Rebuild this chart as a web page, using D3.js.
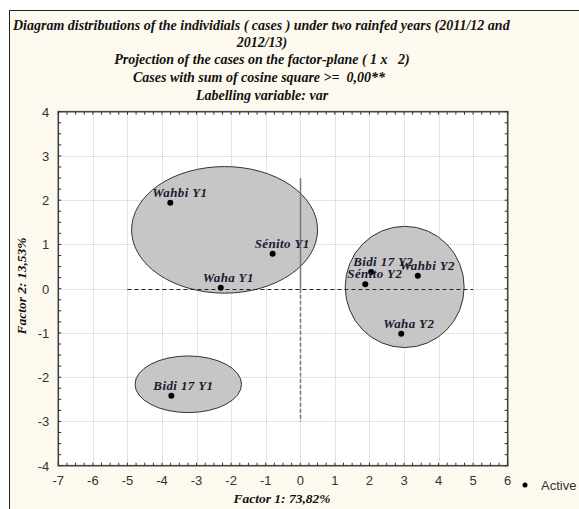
<!DOCTYPE html>
<html><head><meta charset="utf-8">
<script src="https://cdn.jsdelivr.net/npm/d3@7"></script>
<style>
html,body{margin:0;padding:0;background:#fff;}
svg{display:block;}
text{white-space:pre;}
</style></head>
<body>
<svg id="chart" width="579" height="509"></svg>
<script>
// ---- data ----
const caseNames = ["Wahbi Y1","Sénito Y1","Waha Y1","Bidi 17 Y1","Bidi 17 Y2","Sénito Y2","Wahbi Y2","Waha Y2"];
const factor1 = [-3.76,-0.80,-2.30,-3.73,2.05,1.88,3.40,2.92];
const factor2 = [1.94,0.79,0.02,-2.42,0.38,0.10,0.29,-1.02];
const groupCx = [-2.19,3.02,-3.24];
const groupCy = [1.33,0.04,-2.16];
const groupRx = [2.69,1.72,1.54];
const groupRy = [1.43,1.37,0.64];
const xTicks = [-7,-6,-5,-4,-3,-2,-1,0,1,2,3,4,5,6];
const yTicks = [-4,-3,-2,-1,0,1,2,3,4];
const titleLines = ["Diagram distributions of the individials ( cases ) under two rainfed years (2011/12 and","2012/13)","Projection of the cases on the factor-plane ( 1 x   2)","Cases with sum of cosine square >=  0,00**","Labelling variable: var"];
const xTitle = "Factor 1: 73,82%";
const yTitle = "Factor 2: 13,53%";
const legendLabel = "Active";
const hLine = [-5,5];   // horizontal reference at factor2 = 0
const vLine = [2.5,-3]; // vertical reference at factor1 = 0

// ---- layout ----
const svg = d3.select("#chart");
const L = 58.3, R = 507.7, T = 111.7, B = 465.7;
const x = d3.scaleLinear().domain([-7,6]).range([L,R]);
const y = d3.scaleLinear().domain([-4,4]).range([B,T]);

// frame
svg.append("rect").attr("x",9.5).attr("y",10.5).attr("width",600).attr("height",520)
  .attr("fill","#fef9ee").attr("stroke","#222").attr("stroke-width",1);

// title
const serif = "'Liberation Serif','Times New Roman',serif";
const sans = "'Liberation Sans',Arial,sans-serif";
const tl = svg.append("g").attr("font-family",serif).attr("font-weight","bold").attr("font-style","italic")
  .attr("font-size",14).attr("fill","#111");
tl.append("text").attr("x",13).attr("y",30).text(titleLines[0]);
tl.append("text").attr("x",262).attr("y",47).attr("text-anchor","middle").text(titleLines[1]);
tl.append("text").attr("x",262).attr("y",64).attr("text-anchor","middle").text(titleLines[2]);
tl.append("text").attr("x",259).attr("y",82).attr("text-anchor","middle").text(titleLines[3]);
tl.append("text").attr("x",262).attr("y",100).attr("text-anchor","middle").text(titleLines[4]);

// plot bg
svg.append("rect").attr("x",L).attr("y",T).attr("width",R-L).attr("height",B-T).attr("fill","#fff");

// grid
const grid = svg.append("g").attr("stroke","#c8c8c8").attr("stroke-width",1).attr("stroke-dasharray","1,1");
grid.selectAll(".gx").data(xTicks.slice(1,-1)).join("line")
  .attr("x1",d=>Math.round(x(d))+0.5).attr("x2",d=>Math.round(x(d))+0.5).attr("y1",T).attr("y2",B);
grid.selectAll(".gy").data(yTicks.slice(1,-1)).join("line")
  .attr("y1",d=>Math.round(y(d))+0.5).attr("y2",d=>Math.round(y(d))+0.5).attr("x1",L).attr("x2",R);

// ellipses
svg.append("g").selectAll("ellipse").data(groupCx).join("ellipse")
  .attr("cx",(d,i)=>x(d)).attr("cy",(d,i)=>y(groupCy[i]))
  .attr("rx",(d,i)=>x(groupRx[i])-x(0)).attr("ry",(d,i)=>y(0)-y(groupRy[i]))
  .attr("fill","#c6c6c6").attr("stroke","#333").attr("stroke-width",1);

// reference lines
svg.append("line").attr("x1",x(hLine[0])).attr("x2",x(hLine[1])).attr("y1",Math.round(y(0))+0.5).attr("y2",Math.round(y(0))+0.5)
  .attr("stroke","#222").attr("stroke-width",1).attr("stroke-dasharray","4,3");
svg.append("line").attr("x1",Math.round(x(0))+0.5).attr("x2",Math.round(x(0))+0.5).attr("y1",y(vLine[0])).attr("y2",y(0))
  .attr("stroke","#777").attr("stroke-width",1.5);
svg.append("line").attr("x1",Math.round(x(0))+0.5).attr("x2",Math.round(x(0))+0.5).attr("y1",y(0)).attr("y2",y(vLine[1]))
  .attr("stroke","#777").attr("stroke-width",1.5).attr("stroke-dasharray","4,2");

// points
svg.append("g").selectAll("circle").data(factor1).join("circle")
  .attr("cx",d=>x(d)).attr("cy",(d,i)=>y(factor2[i])).attr("r",3).attr("fill","#000");

// labels
svg.append("g").attr("font-family",serif).attr("font-weight","bold").attr("font-style","italic")
  .attr("font-size",13).attr("letter-spacing",0.4).attr("fill","#1a1a30")
  .selectAll("text").data(caseNames).join("text")
  .attr("x",(d,i)=>x(factor1[i])-18).attr("y",(d,i)=>y(factor2[i])-6).text(d=>d);

// axes frame
const ax = svg.append("g");
ax.append("rect").attr("x",L).attr("y",T).attr("width",R-L).attr("height",B-T)
  .attr("fill","none").attr("stroke","#444").attr("stroke-width",1.6);

// ticks (inside, every 0.25)
const xMinor = d3.range(-7,6.001,0.25);
const yMinor = d3.range(-4,4.001,0.25);
const tk = ax.append("g").attr("stroke","#333").attr("stroke-width",1);
tk.selectAll(".tb").data(xMinor).join("line").attr("x1",d=>x(d)).attr("x2",d=>x(d)).attr("y1",B).attr("y2",B-3);
tk.selectAll(".tt").data(xMinor).join("line").attr("x1",d=>x(d)).attr("x2",d=>x(d)).attr("y1",T).attr("y2",T+3);
tk.selectAll(".tl").data(yMinor).join("line").attr("y1",d=>y(d)).attr("y2",d=>y(d)).attr("x1",L).attr("x2",L+3);
tk.selectAll(".tr").data(yMinor).join("line").attr("y1",d=>y(d)).attr("y2",d=>y(d)).attr("x1",R).attr("x2",R-3);

// tick labels
const tlab = svg.append("g").attr("font-family",sans).attr("font-size",13).attr("fill","#333");
tlab.selectAll(".xl").data(xTicks).join("text").attr("x",d=>x(d)).attr("y",B+19).attr("text-anchor","middle").text(d=>d);
tlab.selectAll(".yl").data(yTicks).join("text").attr("x",L-9).attr("y",d=>y(d)+5).attr("text-anchor","end").text(d=>d);

// axis titles
svg.append("text").attr("x",282).attr("y",503).attr("text-anchor","middle").attr("font-family",serif)
  .attr("font-weight","bold").attr("font-style","italic").attr("font-size",13.5).attr("fill","#111").text(xTitle);
svg.append("text").attr("transform","translate(26,286) rotate(-90)").attr("text-anchor","middle").attr("font-family",serif)
  .attr("font-weight","bold").attr("font-style","italic").attr("font-size",13.5).attr("fill","#111").text(yTitle);

// legend
svg.append("circle").attr("cx",525).attr("cy",485).attr("r",2.5).attr("fill","#000");
svg.append("text").attr("x",541).attr("y",490).attr("font-family",sans).attr("font-size",13).attr("fill","#333").text(legendLabel);
</script>
</body></html>
